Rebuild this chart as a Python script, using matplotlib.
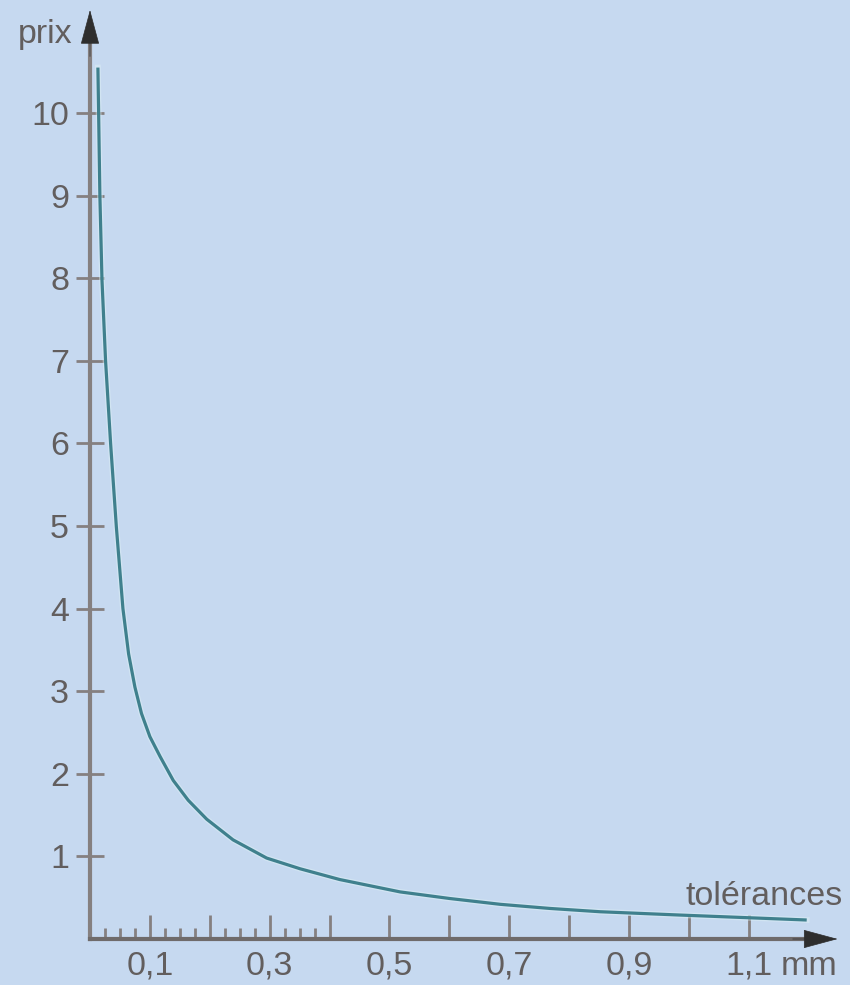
import matplotlib
matplotlib.use("Agg")
import matplotlib.pyplot as plt

# ---- data ----
tolerances = [0.0132, 0.0144, 0.0165, 0.020, 0.026, 0.0344, 0.044, 0.055,
              0.0645, 0.075, 0.086, 0.100, 0.117, 0.139, 0.164, 0.195, 0.239,
              0.295, 0.351, 0.417, 0.518, 0.601, 0.685, 0.768, 0.852, 0.985, 1.197]
prix = [10.55, 10.0, 9.0, 7.98, 7.0, 6.0, 4.99, 4.0,
        3.45, 3.05, 2.73, 2.45, 2.21, 1.92, 1.68, 1.45, 1.20,
        0.98, 0.85, 0.72, 0.57, 0.49, 0.42, 0.37, 0.33, 0.29, 0.23]

y_ticks = [1, 2, 3, 4, 5, 6, 7, 8, 9, 10]
y_labels = ["1", "2", "3", "4", "5", "6", "7", "8", "9", "10"]
x_major = [0.1, 0.2, 0.3, 0.4, 0.5, 0.6, 0.7, 0.8, 0.9, 1.0, 1.1]
x_labels = ["0,1", "", "0,3", "", "0,5", "", "0,7", "", "0,9", "", "1,1"]
x_minor = [0.025, 0.05, 0.075, 0.125, 0.15, 0.175, 0.225, 0.25, 0.275,
           0.325, 0.35, 0.375]

BG = "#C6D9F0"
AXC = "#858080"
TXT = "#625e5e"
CURVE = "#3f808d"
FONT = ["Liberation Sans Narrow", "Liberation Sans", "DejaVu Sans"]
FS = 24.5

plt.rcParams["font.family"] = FONT

fig = plt.figure(figsize=(8.5, 9.85), dpi=100, facecolor=BG)
ax = fig.add_axes([90 / 850, 46 / 985, 747.6 / 850, 929 / 985])
ax.set_facecolor(BG)
ax.set_xlim(0, 747.6 / 598.75)
ax.set_ylim(0, 929 / 82.6)

ax.plot(tolerances, prix, color="#dff2f6", lw=4.2, alpha=0.45,
        solid_joinstyle="round", zorder=2)
ax.plot(tolerances, prix, color=CURVE, lw=2.3, solid_capstyle="butt",
        solid_joinstyle="round", zorder=3)

for s in ("top", "right"):
    ax.spines[s].set_visible(False)
ax.spines["left"].set_color(AXC)
ax.spines["left"].set_linewidth(3)
ax.spines["left"].set_bounds(0, 10.9)
ax.spines["bottom"].set_color("#6f6b6b")
ax.spines["bottom"].set_linewidth(3)
ax.spines["bottom"].set_bounds(0, 1.2)

ax.set_yticks(y_ticks)
ax.set_yticklabels(y_labels)
ax.tick_params(axis="y", direction="inout", length=20, width=2, color=AXC,
               pad=5, labelsize=FS, labelcolor=TXT)

ax.set_xticks(x_major)
ax.set_xticklabels(x_labels)
ax.set_xticks(x_minor, minor=True)
ax.tick_params(axis="x", which="major", direction="in", length=17, width=2,
               color=AXC, pad=8.5, labelsize=FS, labelcolor=TXT)
ax.tick_params(axis="x", which="minor", direction="in", length=8, width=2,
               color=AXC)

# axis arrows
arrow = dict(arrowstyle="-|>,head_length=1.15,head_width=0.31",
             mutation_scale=20, fc="#2e2e2e", ec="#2e2e2e", lw=0.5,
             shrinkA=0, shrinkB=0)
ax.annotate("", xy=(1, 0), xycoords="axes fraction", xytext=(0.94, 0),
            arrowprops=arrow, annotation_clip=False)
ax.annotate("", xy=(0, 1), xycoords="axes fraction", xytext=(0, 0.95),
            arrowprops=arrow, annotation_clip=False)

# labels
ax.annotate("mm", xy=(1.1, 0), xycoords="data", xytext=(23, -8.5),
            textcoords="offset points", ha="left", va="top",
            fontsize=FS, color=TXT, annotation_clip=False)
ax.annotate("tolérances", xy=(1, 0), xycoords="axes fraction", xytext=(4, 24.5),
            textcoords="offset points", ha="right", va="baseline",
            fontsize=FS, color=TXT, annotation_clip=False)
ax.annotate("prix", xy=(0, 1), xycoords="axes fraction", xytext=(-52, -24),
            textcoords="offset points", ha="left", va="baseline",
            fontsize=FS, color=TXT, annotation_clip=False)

fig.savefig("out.png", dpi=100, facecolor=BG)
